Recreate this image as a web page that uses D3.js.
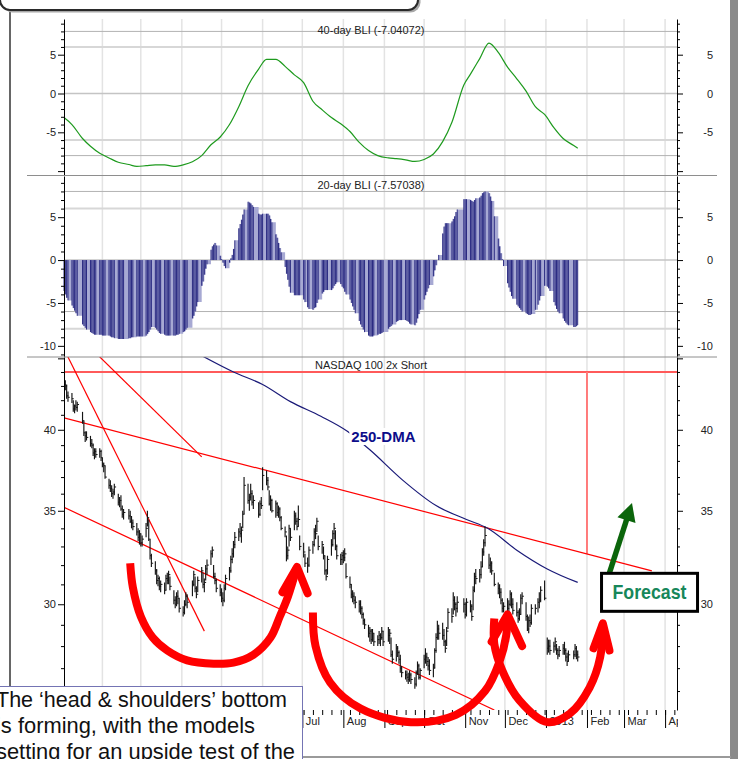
<!DOCTYPE html>
<html lang="en">
<head>
<meta charset="UTF-8">
<title>NASDAQ 100 2x Short with BLI</title>
<script src="https://d3js.org/d3.v7.min.js"></script>
<style>
  body { margin: 0; background: #fff; }
  svg { display: block; font-family: 'Liberation Sans', Arial, Helvetica, sans-serif; }
  .axis text { font-size: 11px; fill: #222; }
  .axis line, .axis path { stroke: #000; }
  .panel-title { font-size: 11px; fill: #222; text-anchor: middle; }
</style>
</head>
<body>
<svg id="chart" width="738" height="759"></svg>
<script>
// ---- sessions ----
const firstSession = '2012-01-03';
const lastSession = '2013-01-25';
const holidays = ['2012-01-16', '2012-02-20', '2012-04-06', '2012-05-28', '2012-07-04', '2012-09-03',
  '2012-10-29', '2012-10-30', '2012-11-22', '2012-12-25', '2013-01-01', '2013-01-21'];

// ---- daily bars, one row per week ----
const highs = [
  [43.9,43.4,43.1,42.6], [42.5,42.0,41.7,42.0,41.9], [41.2,40.6,39.9,39.9], [39.6,39.4,39.1,38.8,38.8],
  [38.8,38.7,38.2,37.9,37.7], [36.9,36.8,36.5,36.3,36.6], [36.0,35.8,35.9,35.3,35.1], [35.1,35.0,34.7,34.5],
  [34.3,34.0,33.9,33.7,33.6], [34.3,35.0,34.5,33.4,32.6], [32.2,31.8,31.5,31.4,31.2], [31.1,31.5,31.6,31.7,31.4],
  [30.7,30.4,30.6,30.7,30.3], [29.9,30.2,30.6,30.5], [31.2,31.7,31.4,30.9,31.4], [31.9,31.6,31.3,32.0,32.3],
  [32.8,33.0,32.0,31.6,31.3], [31.0,30.8,30.6,31.0,31.5], [31.9,32.5,32.9,33.3,33.8], [34.0,34.3,34.1,35.0,37.0],
  [36.6,36.0,36.6,36.2,35.9], [35.5,35.6,35.8,37.6], [37.4,37.0,36.2,35.9,35.7], [35.6,35.5,35.3,35.2,34.7],
  [34.1,33.6,33.0,34.2,34.0], [35.0,34.9,34.6,35.3,33.6], [33.2,32.6,32.4,33.0], [33.3,34.0,34.2,34.6,33.6],
  [33.3,33.0,32.5,31.8,32.5], [33.4,33.9,34.3,33.9,33.1], [32.6,32.7,32.8,32.9,32.1], [31.4,31.0,30.7,30.6,30.4],
  [30.2,30.2,29.9,29.6,29.3], [29.0,28.9,28.8,28.8,28.6], [28.5,28.7,28.6,28.9,28.7], [28.9,28.8,28.4,27.8],
  [28.1,28.0,27.8,27.6,27.1], [26.9,26.9,26.8,26.9,26.8], [26.6,26.9,27.3,27.2,27.0], [27.6,27.9,27.7,27.5,27.4],
  [27.2,27.9,28.6,29.2,29.0], [29.1,28.8,28.3,28.9,29.8], [29.8,30.6,30.4,30.1,30.4], [30.3,30.1,30.3],
  [30.2,30.0,30.9,31.6,31.8], [31.8,32.2,32.9,33.4,34.1], [32.6,32.4,32.2,31.6], [31.1,31.0,30.8,30.3,30.1],
  [30.3,30.2,30.7,30.6,30.3], [30.1,29.7,29.8,30.5,30.6], [30.1,29.5,29.4,29.5,30.0], [30.0,30.3,30.6,30.9],
  [31.2,28.4,28.3,28.3], [28.2,28.4,28.1,27.9,28.0], [28.1,28.2,27.9,27.7,27.8], [27.8,28.1,28.0,27.8]
];
const lows = [
  [42.8,42.7,42.1,41.9], [41.8,41.2,41.1,41.3,41.2], [40.4,39.6,39.2,39.3], [38.9,38.8,38.3,38.1,38.2],
  [38.2,38.0,37.6,37.3,36.9], [36.3,36.1,35.8,35.7,35.9], [35.3,35.2,35.0,34.6,34.5], [34.5,34.3,34.0,33.9],
  [33.6,33.3,33.1,33.0,33.0], [33.5,34.1,33.3,32.3,31.9], [31.5,31.0,30.9,30.7,30.6], [30.5,30.7,31.0,31.0,30.7],
  [30.0,29.8,29.9,30.0,29.6], [29.4,29.5,29.9,29.8], [30.4,30.9,30.6,30.3,30.6], [31.1,30.8,30.6,31.2,31.5],
  [32.0,32.4,31.3,31.0,30.6], [30.4,30.1,29.9,30.1,30.7], [31.2,31.6,32.1,32.4,32.9], [33.3,33.5,33.2,34.0,34.8],
  [35.4,35.0,35.6,35.3,35.1], [34.6,34.7,35.1,36.2], [36.5,36.2,35.3,35.0,34.9], [34.6,34.7,34.6,34.4,33.9],
  [33.5,32.2,32.3,33.0,33.3], [33.9,34.2,33.9,34.1,32.8], [32.4,31.9,31.6,31.9], [32.6,33.0,33.4,33.8,32.8],
  [32.6,32.3,31.5,31.2,31.5], [32.5,33.0,33.4,32.8,32.3], [32.0,32.0,32.1,32.2,31.3], [30.8,30.3,30.1,30.0,29.8],
  [29.6,29.5,29.3,29.0,28.8], [28.4,28.2,28.1,28.2,28.0], [28.0,28.1,28.0,28.3,28.0], [28.2,28.1,27.5,27.2],
  [27.3,27.5,27.2,26.8,26.6], [26.5,26.4,26.3,26.4,26.3], [26.1,26.2,26.7,26.5,26.5], [27.0,27.2,27.1,26.9,26.7],
  [26.6,27.0,27.7,28.3,28.3], [28.3,28.0,27.7,28.0,28.8], [29.1,29.5,29.7,29.4,29.6], [29.6,29.3,29.4],
  [29.6,29.2,29.7,30.6,31.0], [31.1,31.3,31.9,32.5,33.0], [31.8,31.6,31.5,30.9], [30.5,30.3,30.0,29.6,29.6],
  [29.6,29.5,29.9,29.8,29.5], [29.4,29.1,29.2,29.5,30.0], [29.2,28.7,28.6,28.9,29.0], [29.5,29.6,29.8,30.1],
  [30.2,27.6,27.7,27.6], [27.7,27.8,27.6,27.4,27.5], [27.6,27.6,27.3,27.1,27.3], [27.4,27.5,27.4,27.3]
];
const closes = [
  [43.1,43.0,42.3,42.2], [42.1,41.4,41.6,41.5,41.7], [40.6,39.8,39.6,39.5], [39.1,39.0,38.5,38.6,38.4],
  [38.6,38.2,37.8,37.7,37.0], [36.5,36.3,36.0,36.1,36.4], [35.5,35.6,35.1,34.8,34.9], [34.7,34.4,34.3,34.1],
  [33.8,33.5,33.7,33.2,33.4], [34.0,34.6,33.4,32.5,32.1], [31.7,31.2,31.3,30.9,31.0], [30.7,31.3,31.2,31.5,30.9],
  [30.2,30.0,30.4,30.3,29.8], [29.6,30.0,30.4,30.1], [31.0,31.5,30.8,30.5,31.2], [31.7,31.0,31.1,31.8,32.0],
  [32.6,32.8,31.4,31.2,30.8], [30.6,30.3,30.2,30.8,31.3], [31.7,32.3,32.6,33.1,33.5], [33.8,33.7,33.9,34.8,36.5],
  [35.6,35.8,36.0,35.5,35.6], [34.8,35.4,35.3,37.1], [36.8,36.4,35.4,35.6,35.0], [35.4,34.9,35.1,34.6,34.0],
  [33.8,32.5,32.8,34.0,33.5], [34.7,34.4,34.1,34.5,33.0], [32.7,32.1,32.0,32.8], [33.1,33.8,33.7,34.4,33.0],
  [33.1,32.5,31.7,31.4,32.3], [33.1,33.7,34.0,33.0,32.5], [32.3,32.5,32.4,32.6,31.4], [31.0,30.5,30.4,30.2,30.1],
  [30.0,29.8,29.5,29.2,29.0], [28.6,28.7,28.3,28.6,28.2], [28.3,28.5,28.4,28.7,28.2], [28.5,28.6,27.6,27.4],
  [27.9,27.7,27.4,27.0,26.8], [26.7,26.6,26.5,26.7,26.5], [26.3,26.8,27.1,26.6,26.9], [27.4,27.5,27.3,27.1,26.9],
  [27.0,27.8,28.4,28.8,28.6], [28.5,28.2,27.9,28.7,29.6], [29.4,30.2,30.0,29.8,30.1], [30.0,29.5,30.1],
  [29.9,29.4,30.7,31.4,31.3], [31.5,31.9,32.7,33.2,33.6], [32.0,32.1,31.7,31.0], [30.8,30.6,30.2,29.8,29.9],
  [29.8,30.0,30.5,30.0,29.7], [29.6,29.3,29.5,30.3,30.4], [29.4,28.8,29.2,29.1,29.8], [29.8,30.1,30.2,30.7],
  [30.3,27.9,28.0,27.8], [28.0,28.2,27.8,27.6,27.8], [27.9,27.8,27.5,27.3,27.6], [27.6,27.9,27.6,27.5]
];

// 20-day BLI, daily, one row per week
const bli20 = [
  [-3.6,-4.0,-4.4,-4.7], [-5.3,-5.6,-5.9,-6.2,-6.5], [-7.5,-7.7,-7.9,-8.1], [-8.4,-8.5,-8.6,-8.7,-8.7],
  [-8.7,-8.7,-8.8,-8.8,-8.8], [-8.8,-8.9,-9.0,-9.0,-9.1], [-9.2,-9.2,-9.2,-9.2,-9.2], [-9.1,-9.1,-9.0,-9.0],
  [-8.9,-8.9,-8.9,-8.9,-8.9], [-8.8,-8.6,-8.4,-8.1,-7.8], [-7.9,-8.1,-8.3,-8.5,-8.6], [-8.7,-8.8,-8.8,-8.8,-8.8],
  [-8.8,-8.8,-8.7,-8.7,-8.6], [-8.4,-8.3,-8.1,-7.9], [-6.8,-6.5,-6.0,-5.4,-4.9], [-3.0,-2.5,-1.7,-1.0,-0.5],
  [1.2,1.6,1.8,2.0,1.7], [0.5,0.1,-0.3,-0.7,-0.95], [-0.3,0.2,0.6,1.3,2.3], [3.7,4.2,4.7,5.3,5.9],
  [6.8,6.7,6.6,6.4,6.2], [5.4,5.3,5.3,5.4], [5.4,5.4,5.2,4.8,4.4], [3.0,2.6,2.0,1.4,0.9],
  [-0.8,-1.6,-2.3,-3.1,-3.8], [-4.1,-4.1,-4.1,-4.1,-4.1], [-4.6,-4.9,-5.5,-5.7], [-5.8,-5.6,-5.5,-5.0,-4.6],
  [-3.9,-3.7,-3.5,-3.5,-3.5], [-3.5,-3.3,-3.0,-2.8,-2.6], [-2.8,-3.1,-3.3,-3.7,-4.0], [-4.6,-5.0,-5.4,-5.8,-6.2],
  [-7.1,-7.5,-7.8,-8.1,-8.4], [-8.8,-8.9,-8.9,-8.9,-8.8], [-8.7,-8.6,-8.6,-8.5,-8.4], [-8.0,-7.8,-7.7,-7.5],
  [-7.2,-7.1,-7.0,-7.0,-7.0], [-7.0,-7.1,-7.2,-7.4,-7.5], [-7.6,-7.3,-6.8,-6.3,-5.8], [-4.6,-4.1,-3.7,-3.3,-2.9],
  [-1.9,-1.2,-0.6,0.0,0.6], [3.1,3.9,4.3,4.3,4.3], [4.5,4.8,5.1,5.6,5.9], [7.1,7.1,7.1],
  [7.0,6.9,6.8,7.0,7.2], [7.3,7.5,7.8,7.9,8.0], [7.8,7.4,6.9,5.1], [2.5,1.6,0.8,0.1,-0.7],
  [-2.7,-3.2,-3.7,-4.2,-4.5], [-5.2,-5.4,-5.6,-5.8,-6.0], [-6.2,-6.3,-6.4,-6.4,-6.3], [-5.8,-5.2,-4.7,-4.2],
  [-3.0,-3.1,-3.3,-3.6], [-4.9,-5.3,-5.7,-6.0,-6.2], [-6.8,-7.1,-7.3,-7.5,-7.6], [-7.8,-7.8,-7.7,-7.57]
];

// 40-day BLI at the first session of each week, then the last session
const bli40 = [
  -3.1, -4.0, -5.8, -6.8, -7.7, -8.3, -8.85, -9.15, -9.4, -9.3,
  -9.2, -9.2, -9.4, -9.2, -8.8, -8.0, -6.6, -5.6, -4.0, -1.7,
  1.0, 3.15, 4.4, 4.4, 3.5, 2.4, 1.4, -1.0, -2.1, -3.1,
  -3.9, -4.9, -6.3, -7.35, -8.0, -8.3, -8.4, -8.55, -8.75, -8.5,
  -7.8, -6.2, -3.7, 1.1, 2.5, 4.5, 6.5, 5.3, 3.4, 1.9,
  0.3, -1.7, -2.7, -4.4, -5.8, -6.7
];
const bli40Last = -7.04;

const bli40Title = '40-day BLI (-7.04072)';
const bli20Title = '20-day BLI (-7.57038)';
const priceTitle = 'NASDAQ 100 2x Short';

// 250-day moving average
const dma250 = [
  ['2012-04-16', 45.2], ['2012-05-10', 44.0], ['2012-06-01', 43.1], ['2012-06-22', 41.9],
  ['2012-07-15', 40.9], ['2012-08-04', 39.9], ['2012-08-21', 38.7], ['2012-09-15', 36.8],
  ['2012-10-10', 35.3], ['2012-11-02', 34.5], ['2012-11-18', 34.0], ['2012-12-10', 32.8],
  ['2013-01-02', 31.8], ['2013-01-25', 31.1]
];

// hand-drawn trend lines
const trendLines = [
  [['2012-01-05', 45.3], ['2012-04-18', 28.7]],
  [['2012-01-28', 45.3], ['2012-04-16', 38.25]],
  [['2012-01-03', 40.8], ['2013-03-22', 31.7]],
  [['2012-01-03', 35.2], ['2012-11-23', 25.2]]
];
const stopLevel = 44;
const stopDrop = ['2013-02-01', 32.6];

// red curved arrows
const arcs = [
  [['2012-02-22', 32.1], ['2012-02-24', 30.85], ['2012-03-01', 29.4], ['2012-03-10', 28.4], ['2012-03-21', 27.8],
   ['2012-04-05', 27.35], ['2012-04-25', 27.2], ['2012-05-10', 27.25], ['2012-05-25', 27.6], ['2012-06-07', 28.4],
   ['2012-06-14', 29.4], ['2012-06-20', 30.35], ['2012-06-27', 31.9]],
  [['2012-07-09', 29.6], ['2012-07-11', 28.0], ['2012-07-22', 26.37], ['2012-08-14', 25.26], ['2012-09-21', 24.7],
   ['2012-10-25', 25.0], ['2012-11-16', 26.0], ['2012-11-27', 27.3], ['2012-12-02', 28.5], ['2012-12-03', 29.5]],
  [['2012-11-23', 29.3], ['2012-11-23', 28.1], ['2012-11-29', 26.9], ['2012-12-12', 25.6], ['2013-01-02', 24.7],
   ['2013-01-19', 25.05], ['2013-02-03', 26.15], ['2013-02-11', 27.5], ['2013-02-13', 29.07]]
];
const arcHeads = [
  [['2012-06-16', 30.6], ['2012-06-27', 31.9], ['2012-07-05', 30.55]],
  [['2012-11-21', 28.2], ['2012-12-03', 29.5], ['2012-12-14', 28.0]],
  [['2013-02-06', 27.9], ['2013-02-13', 29.07], ['2013-02-18', 27.8]]
];
const forecastArrow = [['2013-02-18', 31.6], ['2013-03-07', 35.45]];
const forecastAnchor = ['2013-02-12', 31.57];
const forecastText = 'Forecast';
const dmaLabel = '250-DMA';
const dmaLabelAnchor = ['2012-08-07', 39.2];
const noteLines = ['The \u2018head & shoulders\u2019 bottom', 'is forming, with the models', 'setting for an upside test of the'];

// ---- layout ----
const svg = d3.select('#chart');
const plotL = 64, plotR = 677;
const p1 = { top: 19, bottom: 175 };
const p2 = { top: 176, bottom: 357 };
const p3 = { top: 357, bottom: 710 };
const noteRight = 302;

const parse = d3.timeParse('%Y-%m-%d');
const fmtDay = d3.timeFormat('%Y-%m-%d');

const x = d3.scaleTime().domain([parse('2012-01-03'), parse('2013-04-10')]).range([plotL, plotR]);
const y1 = d3.scaleLinear().domain([-10.5, 9.6]).range([p1.bottom, p1.top]);
const y2 = d3.scaleLinear().domain([-11.3, 9.8]).range([p2.bottom, p2.top]);
const y3 = d3.scaleLog().domain([25.2, 45.1]).range([p3.bottom, p3.top]);

// sessions
const holidaySet = new Set(holidays);
const sessions = d3.timeDay.range(parse(firstSession), d3.timeDay.offset(parse(lastSession), 1))
  .filter(d => d.getDay() % 6 !== 0 && !holidaySet.has(fmtDay(d)));
const hi = highs.flat(), lo = lows.flat(), cl = closes.flat(), b20 = bli20.flat();
const n = Math.min(sessions.length, hi.length, lo.length, cl.length, b20.length);
const bars = d3.range(n).map(i => ({ date: sessions[i], hi: hi[i], lo: lo[i], cl: cl[i], b20: b20[i] }));

const weekStarts = d3.groups(sessions, d => +d3.timeMonday.floor(d)).map(g => g[1][0]);
const bli40Pts = weekStarts.map((d, i) => [d, bli40[i]]).filter(p => p[1] != null);
bli40Pts.push([sessions[sessions.length - 1], bli40Last]);

const pt = d => [x(parse(d[0])), y3(d[1])];

// defs
const defs = svg.append('defs');
defs.append('clipPath').attr('id', 'priceClip').append('rect')
  .attr('x', plotL).attr('y', p3.top).attr('width', plotR - plotL).attr('height', p3.bottom - p3.top);
// local to the axis group (translated to the bottom of the plot)
defs.append('clipPath').attr('id', 'xLabelClip').append('rect')
  .attr('x', 0).attr('y', -2).attr('width', plotR + 1).attr('height', 40);

svg.append('rect').attr('width', 738).attr('height', 759).attr('fill', '#fff');

// vertical month gridlines
const months = d3.timeMonth.range(parse('2012-02-01'), parse('2013-04-02'));
svg.append('g').selectAll('line').data(months).join('line')
  .attr('x1', d => x(d)).attr('x2', d => x(d))
  .attr('y1', p1.top).attr('y2', p3.bottom)
  .attr('stroke', '#e3e3e3').attr('stroke-width', 1.5);

// horizontal BLI gridlines
const dark = { stroke: '#b2b2b2', w: 1 }, light = { stroke: '#d7d7d7', w: 2 }, zero = { stroke: '#c4c4c4', w: 1.5 };
const p1Levels = [[8, dark], [6, light], [0, zero], [-6, light], [-8, dark]];
const p2Levels = [[8, dark], [6, light], [0, zero], [-6, dark], [-8, light]];
function hGrid(scale, levels) {
  svg.append('g').selectAll('line').data(levels).join('line')
    .attr('x1', plotL).attr('x2', plotR)
    .attr('y1', d => scale(d[0])).attr('y2', d => scale(d[0]))
    .attr('stroke', d => d[1].stroke).attr('stroke-width', d => d[1].w);
}
hGrid(y1, p1Levels);
hGrid(y2, p2Levels);

// ---- 40-day BLI line ----
svg.append('path').datum(bli40Pts)
  .attr('d', d3.line().x(d => x(d[0])).y(d => y1(d[1])).curve(d3.curveMonotoneX))
  .attr('fill', 'none').attr('stroke', '#1e9a1e').attr('stroke-width', 1.2);

// ---- 20-day BLI histogram ----
svg.append('path').datum(bars)
  .attr('d', d3.area().x(d => x(d.date)).y0(y2(0)).y1(d => y2(d.b20)).curve(d3.curveStepAfter))
  .attr('fill', '#a7a9d3');
svg.append('g').selectAll('line').data(bars).join('line')
  .attr('x1', d => x(d.date)).attr('x2', d => x(d.date))
  .attr('y1', y2(0)).attr('y2', d => y2(d.b20))
  .attr('stroke', '#1c1c78').attr('stroke-width', 0.9);

// ---- price panel ----
const priceG = svg.append('g').attr('clip-path', 'url(#priceClip)');

priceG.append('line')
  .attr('x1', plotL).attr('x2', plotR).attr('y1', y3(stopLevel)).attr('y2', y3(stopLevel))
  .attr('stroke', '#ff5a5a').attr('stroke-width', 2);
priceG.append('line')
  .attr('x1', x(parse(stopDrop[0]))).attr('x2', x(parse(stopDrop[0])))
  .attr('y1', y3(stopLevel)).attr('y2', y3(stopDrop[1]))
  .attr('stroke', '#ff7a7a').attr('stroke-width', 2);

priceG.selectAll('line.trend').data(trendLines).join('line').attr('class', 'trend')
  .attr('x1', d => pt(d[0])[0]).attr('y1', d => pt(d[0])[1])
  .attr('x2', d => pt(d[1])[0]).attr('y2', d => pt(d[1])[1])
  .attr('stroke', '#ff0000').attr('stroke-width', 1.2);

priceG.append('path').datum(dma250)
  .attr('d', d3.line().x(d => pt(d)[0]).y(d => pt(d)[1]).curve(d3.curveMonotoneX))
  .attr('fill', 'none').attr('stroke', '#1a1a78').attr('stroke-width', 1.2);

const barG = priceG.append('g').attr('stroke', '#151515');
barG.selectAll('line.hl').data(bars).join('line').attr('class', 'hl')
  .attr('x1', d => x(d.date)).attr('x2', d => x(d.date))
  .attr('y1', d => y3(d.hi)).attr('y2', d => y3(d.lo))
  .attr('stroke-width', 1.15);
barG.selectAll('line.cl').data(bars).join('line').attr('class', 'cl')
  .attr('x1', d => x(d.date)).attr('x2', d => x(d.date) + 1.8)
  .attr('y1', d => y3(d.cl)).attr('y2', d => y3(d.cl))
  .attr('stroke-width', 1);

// 250-DMA label
const dmaPos = pt(dmaLabelAnchor);
const dmaText = svg.append('text').attr('x', dmaPos[0]).attr('y', dmaPos[1])
  .attr('font-size', 15).attr('font-weight', 'bold').attr('fill', '#0d0d8a').text(dmaLabel);
const bb = dmaText.node().getBBox();
svg.insert('rect', () => dmaText.node())
  .attr('x', bb.x - 2).attr('y', bb.y).attr('width', bb.width + 3).attr('height', bb.height)
  .attr('fill', '#fff');

// ---- axes ----
function yAxes(scale, ticks, labels) {
  const left = svg.append('g').attr('class', 'axis').attr('transform', `translate(${plotL},0)`)
    .call(d3.axisLeft(scale).tickValues(ticks).tickSize(3).tickSizeOuter(0).tickPadding(5)
      .tickFormat(d => labels.includes(d) ? d : ''));
  left.selectAll('.tick line').attr('x2', d => d % 5 === 0 ? -6 : -3);
  const right = svg.append('g').attr('class', 'axis').attr('transform', `translate(${plotR},0)`)
    .call(d3.axisRight(scale).tickValues(ticks).tickSize(3).tickSizeOuter(0)
      .tickFormat(d => labels.includes(d) ? d : ''));
  right.selectAll('.tick line').attr('x2', d => d % 5 === 0 ? 6 : 3);
  right.selectAll('.tick text').attr('x', 36).attr('text-anchor', 'end');
}
yAxes(y1, d3.range(-10, 10), [5, 0, -5]);
yAxes(y2, d3.range(-11, 10), [5, 0, -5, -10]);
yAxes(y3, d3.range(26, 46), [30, 35, 40]);

const weeks = d3.timeMonday.range(parse('2012-01-04'), parse('2013-04-10'));
const weekAxis = svg.append('g').attr('class', 'axis').attr('transform', `translate(0,${p3.bottom})`)
  .call(d3.axisBottom(x).tickValues(weeks).tickSize(5).tickFormat(''));
weekAxis.select('.domain').remove();
// month labels left of the note box edge are hidden under it, so they are not drawn
const monthAxis = svg.append('g').attr('class', 'axis').attr('transform', `translate(0,${p3.bottom})`)
  .attr('clip-path', 'url(#xLabelClip)')
  .call(d3.axisBottom(x).tickValues(months).tickSize(18)
    .tickFormat(d => x(d) < noteRight ? '' : (d.getMonth() === 0 ? d.getFullYear() : d3.timeFormat('%b')(d))));
monthAxis.select('.domain').remove();
monthAxis.selectAll('.tick text').attr('x', 3).attr('y', 7).attr('text-anchor', 'start');

// panel separators and titles
svg.append('g').selectAll('line').data([p1.bottom + 0.5, p3.top]).join('line')
  .attr('x1', 27).attr('x2', 717).attr('y1', d => d).attr('y2', d => d)
  .attr('stroke', '#8e8e8e').attr('stroke-width', 1);
const titleX = 371;
svg.append('text').attr('class', 'panel-title').attr('x', titleX).attr('y', 34).text(bli40Title);
svg.append('text').attr('class', 'panel-title').attr('x', titleX).attr('y', 189).text(bli20Title);
svg.append('text').attr('class', 'panel-title').attr('x', titleX).attr('y', 369).text(priceTitle);

// ---- annotations ----
const arcLine = d3.line().x(d => pt(d)[0]).y(d => pt(d)[1]).curve(d3.curveCatmullRom.alpha(0.5));
svg.append('g').selectAll('path').data(arcs).join('path')
  .attr('d', arcLine).attr('fill', 'none')
  .attr('stroke', '#ff0000').attr('stroke-width', 8).attr('stroke-linecap', 'butt');
svg.append('g').selectAll('path').data(arcHeads).join('path')
  .attr('d', d3.line().x(d => pt(d)[0]).y(d => pt(d)[1]))
  .attr('fill', 'none').attr('stroke', '#ff0000').attr('stroke-width', 8)
  .attr('stroke-linecap', 'round').attr('stroke-linejoin', 'round');

// green forecast arrow
const [a0, a1] = forecastArrow.map(pt);
const len = Math.hypot(a1[0] - a0[0], a1[1] - a0[1]);
const ux = (a1[0] - a0[0]) / len, uy = (a1[1] - a0[1]) / len;
const headLen = 18, headHalf = 9.5;
const base = [a1[0] - ux * headLen, a1[1] - uy * headLen];
svg.append('line')
  .attr('x1', a0[0]).attr('y1', a0[1]).attr('x2', base[0] + ux * 2).attr('y2', base[1] + uy * 2)
  .attr('stroke', '#0b650b').attr('stroke-width', 5.5);
svg.append('path')
  .attr('d', `M${a1[0]},${a1[1]}L${base[0] - uy * headHalf},${base[1] + ux * headHalf}L${base[0] + uy * headHalf},${base[1] - ux * headHalf}Z`)
  .attr('fill', '#0b650b');

// forecast box
const fb = pt(forecastAnchor);
svg.append('rect').attr('x', fb[0]).attr('y', fb[1]).attr('width', 96).attr('height', 38)
  .attr('fill', '#fff').attr('stroke', '#000').attr('stroke-width', 3);
svg.append('text').attr('x', fb[0] + 48).attr('y', fb[1] + 26)
  .attr('text-anchor', 'middle').attr('font-size', 21).attr('font-weight', 'bold')
  .attr('fill', '#17875a').attr('textLength', 74).attr('lengthAdjust', 'spacingAndGlyphs')
  .text(forecastText);

// ---- frame decoration ----
svg.append('rect').attr('x', 730).attr('y', 0).attr('width', 8).attr('height', 759).attr('fill', '#8a8a8a');
svg.append('line').attr('x1', 0).attr('x2', 731).attr('y1', 757).attr('y2', 757)
  .attr('stroke', '#9a9a9a').attr('stroke-width', 2);
svg.append('line').attr('x1', 10).attr('x2', 10).attr('y1', 12).attr('y2', 759)
  .attr('stroke', '#333').attr('stroke-width', 1.5);
svg.append('rect').attr('x', 2.5).attr('y', -37.5).attr('width', 418).attr('height', 50).attr('rx', 10)
  .attr('fill', '#a8a8a8');
svg.append('rect').attr('x', 0).attr('y', -40).attr('width', 418).attr('height', 50).attr('rx', 10)
  .attr('fill', '#fff').attr('stroke', '#2a2a2a').attr('stroke-width', 2);

// note box
svg.append('rect').attr('x', -10).attr('y', 686.5).attr('width', noteRight + 0.5 + 10).attr('height', 100)
  .attr('fill', '#fff').attr('stroke', '#7474b4').attr('stroke-width', 1);
const noteWidths = [291, 259, 299];
svg.append('g').selectAll('text').data(noteLines).join('text')
  .attr('x', -4).attr('y', (d, i) => 707 + i * 26)
  .attr('font-size', 21.5).attr('fill', '#111')
  .attr('textLength', (d, i) => noteWidths[i]).attr('lengthAdjust', 'spacingAndGlyphs')
  .text(d => d);
</script>
</body>
</html>
